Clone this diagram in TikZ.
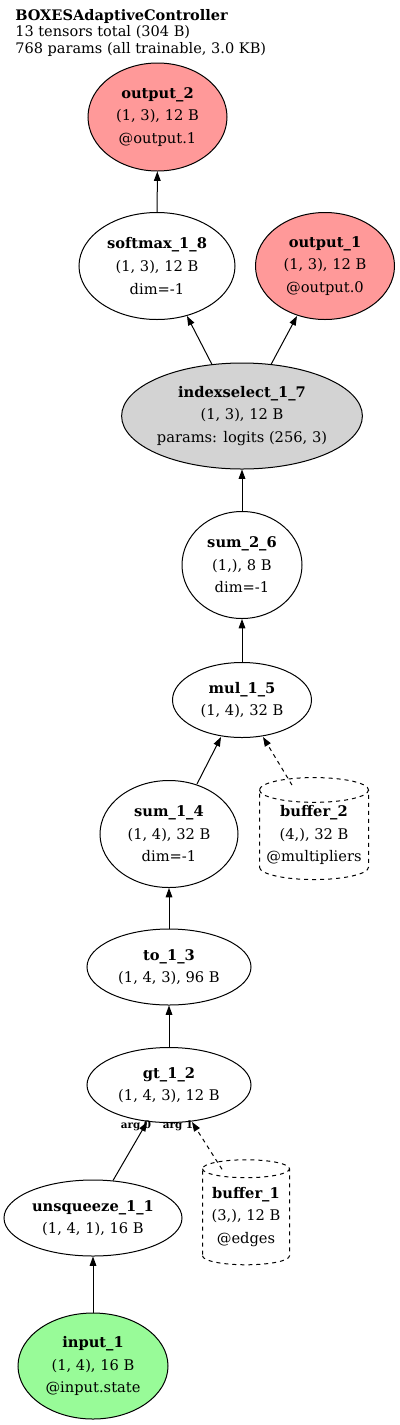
\documentclass[tikz,border=0pt]{standalone}
\usepackage{fontspec}
\setmainfont{DejaVu Serif}
\usepackage{tikz}
\usetikzlibrary{arrows.meta,positioning,calc,shapes.geometric}
\definecolor{vizRed}{HTML}{FF9999}
\definecolor{vizGrey}{HTML}{D3D3D3}
\definecolor{vizGreen}{HTML}{98FB98}
\newcommand{\nodetxt}{\fontsize{11}{16.9}\selectfont}

\begin{document}
\begin{tikzpicture}[
    x=0.75pt, y=-0.75pt,
    >={Triangle[length=7pt,width=5pt]},
    op/.style 2 args={draw, ellipse, line width=0.75pt, inner sep=0pt,
                      minimum width=#1*0.75pt, minimum height=#2*0.75pt,
                      font=\nodetxt, align=center},
    buf/.style 2 args={draw, dashed, cylinder, shape border rotate=90,
                       aspect=0.26, line width=0.75pt, inner sep=0pt,
                       minimum width=#1*0.75pt, minimum height=#2*0.75pt,
                       font=\nodetxt, align=center},
    wire/.style={->, line width=0.75pt},
    argl/.style={font=\bfseries\fontsize{7.8}{9}\selectfont, inner sep=0pt},
  ]
  \useasboundingbox (0,0) rectangle (400,1425);

  % --- header ---
  \node[anchor=north west, align=left, inner sep=0pt,
        font=\fontsize{10.9}{12.4}\selectfont] (title) at (15,9)
    {\textbf{BOXESAdaptiveController}\\13 tensors total (304 B)\\768 params (all trainable, 3.0 KB)};

  % --- outputs ---
  \node[op={139}{108}, fill=vizRed] (output2) at (157.5,117)
    {\textbf{output\_2}\\(1, 3), 12 B\\@output.1};
  \node[op={156}{107}] (softmax) at (157,266)
    {\textbf{softmax\_1\_8}\\(1, 3), 12 B\\dim=-1};
  \node[op={139}{107}, fill=vizRed] (output1) at (325,266)
    {\textbf{output\_1}\\(1, 3), 12 B\\@output.0};

  % --- ops ---
  \node[op={240}{106}, fill=vizGrey] (idx) at (242,416)
    {\textbf{indexselect\_1\_7}\\(1, 3), 12 B\\params: logits (256, 3)};
  \node[op={120}{107}] (sum26) at (242,565)
    {\textbf{sum\_2\_6}\\(1,), 8 B\\dim=-1};
  \node[op={139}{75}] (mul15) at (242,700)
    {\textbf{mul\_1\_5}\\(1, 4), 32 B};
  \node[op={138}{107}] (sum14) at (169,834)
    {\textbf{sum\_1\_4}\\(1, 4), 32 B\\dim=-1};
  \node[buf={109}{102}] (buf2) at (314,835)
    {\textbf{buffer\_2}\\(4,), 32 B\\@multipliers};
  \node[op={164}{76}] (to13) at (169,967)
    {\textbf{to\_1\_3}\\(1, 4, 3), 96 B};
  \node[op={164}{75}] (gt12) at (169,1085)
    {\textbf{gt\_1\_2}\\(1, 4, 3), 12 B};
  \node[op={178}{76}] (unsq) at (93,1218)
    {\textbf{unsqueeze\_1\_1}\\(1, 4, 1), 16 B};
  \node[buf={87}{105}] (buf1) at (246,1217)
    {\textbf{buffer\_1}\\(3,), 12 B\\@edges};

  % --- input ---
  \node[op={150}{106}, fill=vizGreen] (input1) at (93,1366)
    {\textbf{input\_1}\\(1, 4), 16 B\\@input.state};

  % --- edges ---
  \draw[wire] (input1) -- (unsq);
  \draw[wire] ($(unsq.north)+(20,1)$) -- ($(gt12.south)+(-22,-1)$)
    node[argl, at end, xshift=-8.25pt, yshift=-3pt] (arg0) {arg 0};
  \draw[wire, dashed] ($(buf1.north)+(-24,10)$) -- ($(gt12.south)+(23,-1)$)
    node[argl, at end, xshift=-10.5pt, yshift=-3pt] (arg1) {arg 1};
  \draw[wire] (gt12) -- (to13);
  \draw[wire] (to13) -- (sum14);
  \draw[wire] ($(sum14.north)+(28,4)$) -- ($(mul15.south)+(-21,-1)$);
  \draw[wire, dashed] ($(buf2.north)+(-22,8)$) -- ($(mul15.south)+(21,-1)$);
  \draw[wire] (mul15) -- (sum26);
  \draw[wire] (sum26) -- (idx);
  \draw[wire] ($(idx.north)+(-30,2)$) -- ($(softmax.south)+(30,-4)$);
  \draw[wire] ($(idx.north)+(29,2)$) -- ($(output1.south)+(-28,-4)$);
  \draw[wire] (softmax) -- (output2);

\end{tikzpicture}
\end{document}
